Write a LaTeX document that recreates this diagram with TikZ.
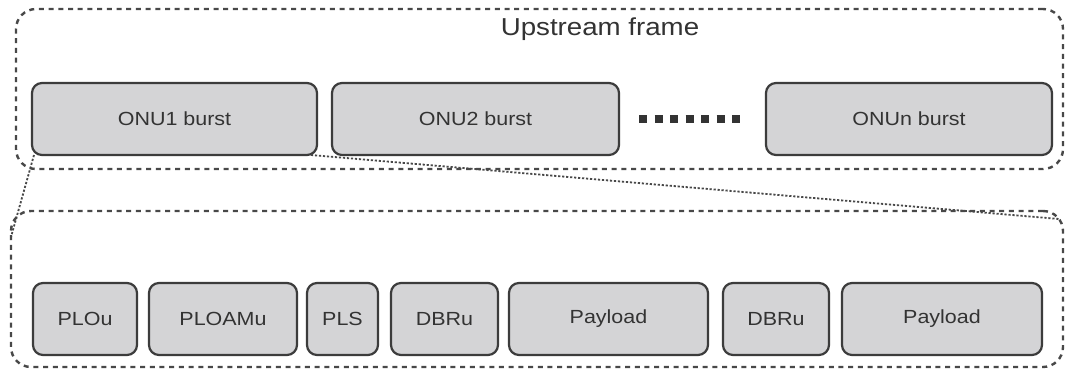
\documentclass[tikz,border=0pt]{standalone}
\usepackage{fontspec}
\setmainfont[FakeStretch=1.13]{Liberation Sans}
\usetikzlibrary{calc}
\definecolor{cellfill}{HTML}{D4D4D6}
\definecolor{celledge}{HTML}{3C3C3C}
\definecolor{inkgray}{HTML}{333333}
\definecolor{framegray}{HTML}{484848}
\tikzset{
  cell/.style={draw=celledge, fill=cellfill, line width=2.2pt, rounded corners=10pt,
    inner sep=0pt, outer sep=0pt, anchor=north west, minimum height=72pt,
    text=inkgray, font=\fontsize{19}{21}\selectfont},
  frame/.style={draw=framegray, line width=2.4pt, dash pattern=on 5pt off 4.7pt,
    rounded corners=20pt, inner sep=0pt, outer sep=0pt, anchor=north west},
  zoomline/.style={draw=framegray, line width=1.8pt, dash pattern=on 2.2pt off 1.8pt},
}
\begin{document}
\begin{tikzpicture}[x=1pt, y=-1pt]
  \useasboundingbox[fill=white] (0,0) rectangle (1067,369);

  % dashed frames
  \node[frame, minimum width=1047pt, minimum height=160pt] (upframe) at (16,9) {};
  \node[frame, minimum width=1052pt, minimum height=156pt] (burstframe) at (11,211) {};

  % frame title
  \node[anchor=base, text=inkgray, font=\fontsize{24.5}{26}\selectfont, inner sep=0pt]
    (title) at (600,36) {Upstream frame};

  % bursts in the upstream frame
  \node[cell, minimum width=285pt] (onu1) at (32,83) {ONU1 burst};
  \node[cell, minimum width=287pt] (onu2) at (332,83) {ONU2 burst};
  \node[cell, minimum width=286pt] (onun) at (766,83) {ONUn burst};

  % ellipsis between bursts
  \coordinate (dotsA) at (639,119);
  \coordinate (dotsB) at (740,119);
  \draw[draw=inkgray, line width=8pt, dash pattern=on 8pt off 7.5pt] (dotsA) -- (dotsB);

  % fields of one burst
  \node[cell, minimum width=104pt] (plou)   at (33,283)  {PLOu};
  \node[cell, minimum width=148pt] (ploamu) at (149,283) {PLOAMu};
  \node[cell, minimum width=71pt]  (pls)    at (307,283) {PLS};
  \node[cell, minimum width=107pt] (dbru1)  at (391,283) {DBRu};
  \node[cell, minimum width=199pt] (pay1)   at (509,283) {Payload};
  \node[cell, minimum width=106pt] (dbru2)  at (723,283) {DBRu};
  \node[cell, minimum width=200pt] (pay2)   at (842,283) {Payload};

  % zoom lines from the first burst to its expansion
  \coordinate (zl) at ($(burstframe.north west)+(0,26)$);
  \coordinate (zr) at ($(burstframe.north east)+(-4,8)$);
  \draw[zoomline] ($(onu1.south west)+(2,0)$) -- (zl);
  \draw[zoomline] ($(onu1.south east)+(-6,0)$) -- (zr);
\end{tikzpicture}
\end{document}
